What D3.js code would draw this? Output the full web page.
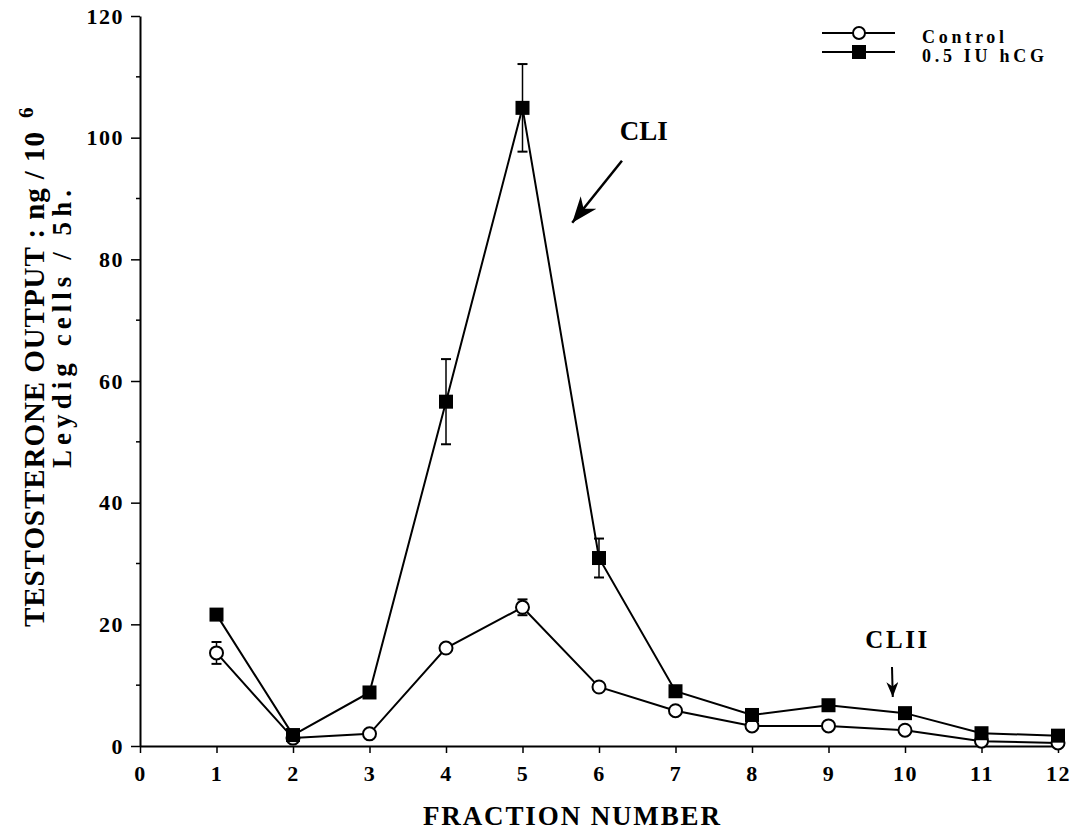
<!DOCTYPE html>
<html>
<head>
<meta charset="utf-8">
<script src="https://cdn.jsdelivr.net/npm/d3@7"></script>
<style>
    body { margin: 0; background: #fff; }
    svg text { font-family: "Liberation Serif", "Times New Roman", serif; font-weight: bold; fill: #000; }
</style>
</head>
<body>
<div id="chart"></div>
<script>
// fractions 1..12, values (ng / 10^6 Leydig cells / 5h)
const fractions = [1, 2, 3, 4, 5, 6, 7, 8, 9, 10, 11, 12];
const control = [15.3, 1.3, 2.0, 16.1, 22.8, 9.7, 5.8, 3.3, 3.3, 2.6, 0.8, 0.5];
const controlErr = [1.8, 0, 0, 0, 1.3, 0, 0, 0, 0, 0, 0, 0];
const hcg = [21.6, 1.8, 8.8, 56.6, 104.9, 30.9, 9.0, 5.1, 6.7, 5.4, 2.1, 1.7];
const hcgErr = [0.8, 0, 0, 7.0, 7.2, 3.2, 0, 0, 0, 0, 0, 0];

const xTicks = [0, 1, 2, 3, 4, 5, 6, 7, 8, 9, 10, 11, 12];
const yTicks = [0, 20, 40, 60, 80, 100, 120];
const yMinor = [10, 30, 50, 70, 90, 110];
const seriesNames = ["Control", "0.5  IU  hCG"];

const width = 1072, height = 833;

const svg = d3.select("#chart").append("svg")
    .attr("width", width)
    .attr("height", height);

const x = d3.scaleLinear().domain([0, 12]).range([140, 1058]);
const y = d3.scaleLinear().domain([0, 120]).range([746, 16]);

// arrow heads for the annotations
const defs = svg.append("defs");
function arrowHead(id, len, wide) {
    defs.append("marker")
        .attr("id", id)
        .attr("markerUnits", "userSpaceOnUse")
        .attr("viewBox", `0 ${-wide / 2} ${len} ${wide}`)
        .attr("refX", len)
        .attr("refY", 0)
        .attr("markerWidth", len)
        .attr("markerHeight", wide)
        .attr("orient", "auto")
        .append("path")
        .attr("d", `M0,${-wide / 2}L${len},0L0,${wide / 2}L${len * 0.3},0Z`)
        .attr("fill", "#000");
}
arrowHead("headBig", 26, 20);
arrowHead("headSmall", 15, 12);

// axes
const xAxis = svg.append("g")
    .attr("transform", `translate(0,${y(0)})`)
    .call(d3.axisBottom(x).tickValues(xTicks).tickSize(7).tickPadding(12).tickSizeOuter(0));

const yAxis = svg.append("g")
    .attr("transform", `translate(${x(0)},0)`)
    .call(d3.axisLeft(y).tickValues(yTicks).tickSize(9).tickPadding(7).tickSizeOuter(0));

yAxis.selectAll(".minor")
    .data(yMinor)
    .enter()
    .append("line")
    .attr("x1", -4)
    .attr("x2", 0)
    .attr("y1", d => y(d))
    .attr("y2", d => y(d))
    .attr("stroke", "#000")
    .attr("stroke-width", 1.5);

[xAxis, yAxis].forEach(function(g) {
    g.select(".domain").attr("stroke-width", 2);
    g.selectAll(".tick line").attr("stroke-width", 1.5);
    g.selectAll("text")
        .style("font-size", "22px")
        .style("letter-spacing", "1.5px")
        .attr("font-family", null);
});
xAxis.selectAll("text").attr("dy", "0.71em");

// axis titles
svg.append("text")
    .attr("x", 423)
    .attr("y", 825)
    .attr("textLength", 297)
    .attr("lengthAdjust", "spacing")
    .style("font-size", "27px")
    .text("FRACTION NUMBER");

svg.append("text")
    .attr("transform", "translate(44,627) rotate(-90)")
    .attr("textLength", 495)
    .attr("lengthAdjust", "spacing")
    .style("font-size", "29px")
    .text("TESTOSTERONE OUTPUT : ng / 10");

svg.append("text")
    .attr("transform", "translate(33,118) rotate(-90)")
    .style("font-size", "21px")
    .text("6");

svg.append("text")
    .attr("transform", "translate(71,468) rotate(-90)")
    .attr("textLength", 278)
    .attr("lengthAdjust", "spacing")
    .style("font-size", "27px")
    .text("Leydig cells / 5h.");

// series
const line = d3.line()
    .x((d, i) => x(fractions[i]))
    .y(d => y(d));

function drawSeries(values, errs, shape) {
    const g = svg.append("g");

    g.append("path")
        .datum(values)
        .attr("d", line)
        .attr("fill", "none")
        .attr("stroke", "#000")
        .attr("stroke-width", 2);

    const bars = fractions.filter((f, i) => errs[i] > 0);
    bars.forEach(function(f) {
        const i = fractions.indexOf(f);
        const cx = x(f);
        const top = y(values[i] + errs[i]), bot = y(values[i] - errs[i]);
        g.append("line").attr("x1", cx).attr("x2", cx).attr("y1", top).attr("y2", bot)
            .attr("stroke", "#000").attr("stroke-width", 1.5);
        [top, bot].forEach(function(yy) {
            g.append("line").attr("x1", cx - 5).attr("x2", cx + 5).attr("y1", yy).attr("y2", yy)
                .attr("stroke", "#000").attr("stroke-width", 2);
        });
    });

    if (shape === "circle") {
        g.selectAll(".pt")
            .data(values)
            .enter()
            .append("circle")
            .attr("cx", (d, i) => x(fractions[i]))
            .attr("cy", d => y(d))
            .attr("r", 6.5)
            .attr("fill", "#fff")
            .attr("stroke", "#000")
            .attr("stroke-width", 2);
    } else {
        g.selectAll(".pt")
            .data(values)
            .enter()
            .append("rect")
            .attr("x", (d, i) => x(fractions[i]) - 7)
            .attr("y", d => y(d) - 7)
            .attr("width", 14)
            .attr("height", 14)
            .attr("fill", "#000");
    }
}

drawSeries(control, controlErr, "circle");
drawSeries(hcg, hcgErr, "square");

// legend
const legend = svg.append("g");
[33, 52].forEach(function(ly, k) {
    legend.append("line")
        .attr("x1", 822).attr("x2", 895)
        .attr("y1", ly).attr("y2", ly)
        .attr("stroke", "#000").attr("stroke-width", 2);
    if (k === 0) {
        legend.append("circle").attr("cx", 859).attr("cy", ly).attr("r", 6)
            .attr("fill", "#fff").attr("stroke", "#000").attr("stroke-width", 2);
    } else {
        legend.append("rect").attr("x", 852).attr("y", ly - 7).attr("width", 14).attr("height", 14)
            .attr("fill", "#000");
    }
    legend.append("text")
        .attr("x", 922)
        .attr("y", ly + 10)
        .attr("textLength", k === 0 ? 82 : 122)
        .attr("lengthAdjust", "spacing")
        .style("font-size", "18px")
        .text(seriesNames[k]);
});

// peak annotations, placed in data units
svg.append("text")
    .attr("x", x(6.27))
    .attr("y", y(99.6))
    .style("font-size", "27px")
    .text("CLI");

svg.append("line")
    .attr("x1", x(6.3)).attr("y1", y(96.2))
    .attr("x2", x(5.65)).attr("y2", y(86.0))
    .attr("stroke", "#000").attr("stroke-width", 2.5)
    .attr("marker-end", "url(#headBig)");

svg.append("text")
    .attr("x", x(9.48))
    .attr("y", y(16.1))
    .attr("textLength", 62)
    .attr("lengthAdjust", "spacing")
    .style("font-size", "25px")
    .text("CLII");

svg.append("line")
    .attr("x1", x(9.83)).attr("y1", y(13.0))
    .attr("x2", x(9.84)).attr("y2", y(8.05))
    .attr("stroke", "#000").attr("stroke-width", 2)
    .attr("marker-end", "url(#headSmall)");
</script>
</body>
</html>
